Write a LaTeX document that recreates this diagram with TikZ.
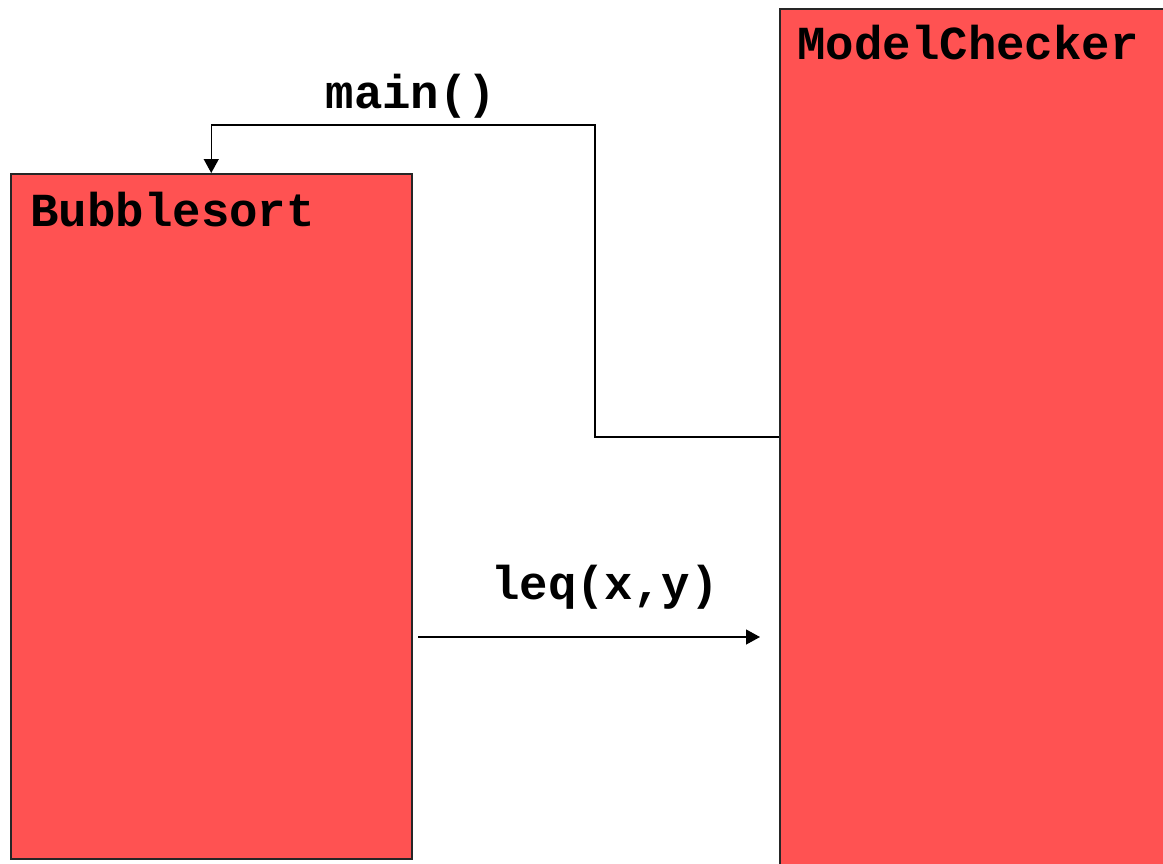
\documentclass[tikz,border=0pt]{standalone}
\usepackage{fontspec}
\setmonofont{Liberation Mono}
\usepackage{xcolor}
\usepackage{tikz}
\usetikzlibrary{arrows,arrows.meta,calc,positioning}
\definecolor{boxred}{RGB}{255,82,82}
\tikzstyle{classbox} = [draw=black!85, fill=boxred, line width=0.75pt,
    rectangle, inner sep=0pt, anchor=north west]
\tikzstyle{boxtitle} = [font=\fontsize{23.7}{28}\selectfont\ttfamily\bfseries,
    inner sep=0pt, anchor=base west]
\tikzstyle{calltext} = [font=\fontsize{23.7}{28}\selectfont\ttfamily\bfseries,
    inner sep=0pt, anchor=base]
\tikzstyle{call} = [line width=0.65pt, -{Triangle[length=7pt,width=7.5pt]}]

\begin{document}
\begin{tikzpicture}[x=0.5pt,y=-0.5pt]
\useasboundingbox (0,0) rectangle (1163,863);
\clip (0,0) rectangle (1163,863);
% the two classes
\node [classbox, minimum width=200.5pt, minimum height=342.5pt] (bubble) at (10,173) {};
\node [classbox, minimum width=200pt, minimum height=435pt] (checker) at (779,8) {};
\node [boxtitle] (bubbletitle) at (30,226) {Bubblesort};
\node [boxtitle] (checkertitle) at (797,59) {ModelChecker};
% main() call from the checker
\coordinate (mainstart) at (779,437);
\draw [call] (mainstart) -- (595,437) -- (595,125) -| (bubble.north);
\node [calltext] (maintext) at (411,108) {main()};
% leq(x,y) call back to the checker
\coordinate (leqstart) at (418,637);
\coordinate (leqend) at (760,637);
\draw [call] (leqstart) -- (leqend);
\node [calltext] (leqtext) at (605,599) {leq(x,y)};
\end{tikzpicture}
\end{document}
